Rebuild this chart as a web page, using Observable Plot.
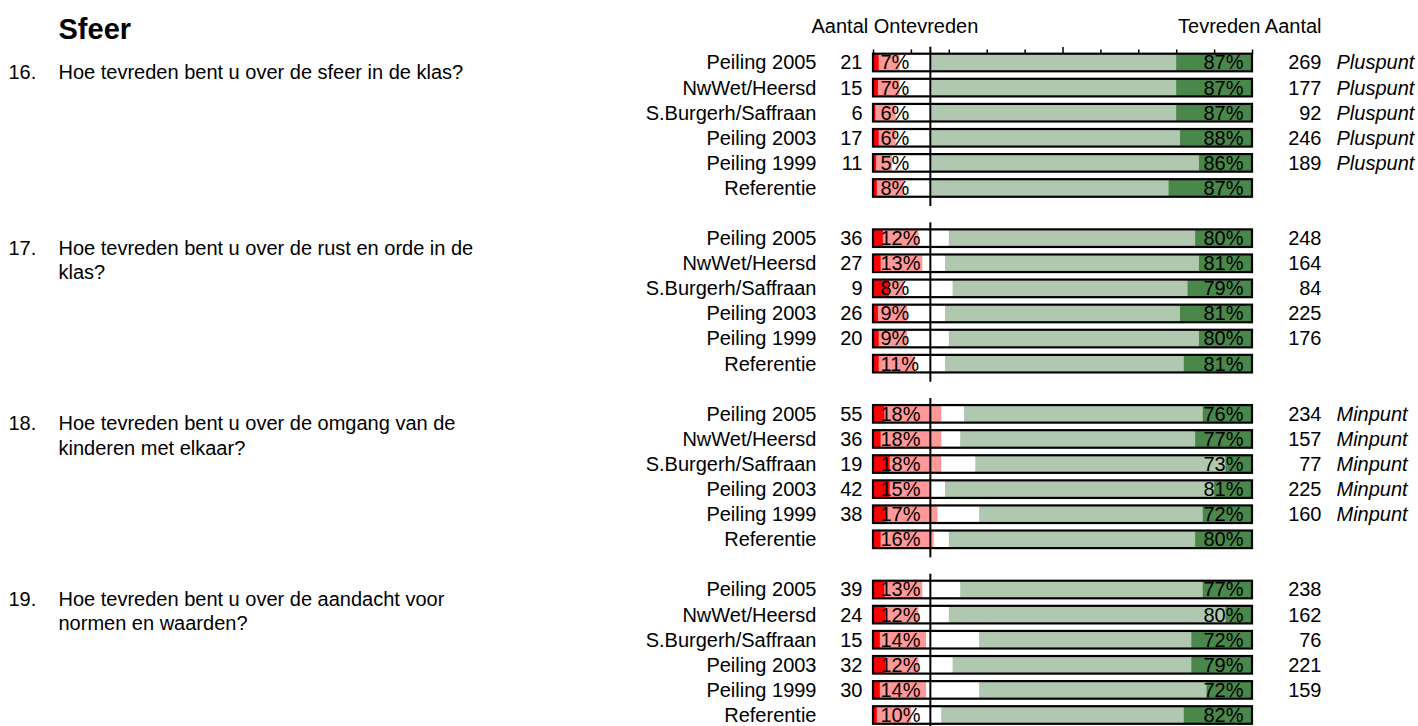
<!DOCTYPE html>
<html><head><meta charset="utf-8">
<script src="https://cdn.jsdelivr.net/npm/d3@7"></script>
<script src="https://cdn.jsdelivr.net/npm/@observablehq/plot@0.6"></script>
<style>body{margin:0;background:#fff;}</style>
</head><body><div id="chart"></div>
<script>
// ---- data ----
const title = "Sfeer";
const headerLeft = "Aantal Ontevreden";
const headerRight = "Tevreden Aantal";
const questionNumbers = ["16.", "17.", "18.", "19."];
const questionLines = [
  ["Hoe tevreden bent u over de sfeer in de klas?"],
  ["Hoe tevreden bent u over de rust en orde in de", "klas?"],
  ["Hoe tevreden bent u over de omgang van de", "kinderen met elkaar?"],
  ["Hoe tevreden bent u over de aandacht voor", "normen en waarden?"]
];
const rowLabels = ["Peiling 2005", "NwWet/Heersd", "S.Burgerh/Saffraan", "Peiling 2003", "Peiling 1999", "Referentie"];
// % ontevreden (pink) and part of it zeer ontevreden (red)
const ontevreden = [[7, 7, 6, 6, 5, 8], [12, 13, 8, 9, 9, 11], [18, 18, 18, 15, 17, 16], [13, 12, 14, 12, 14, 10]];
const zeerOntevreden = [[1.5, 1.3, 0.6, 1.5, 0.8, 1.0], [2.6, 2.0, 4.2, 1.3, 1.5, 1.5], [3.0, 2.0, 4.4, 4.4, 3.5, 2.0], [3.0, 3.3, 1.8, 3.3, 1.8, 1.0]];
// % tevreden (light green) and part of it zeer tevreden (dark green)
const tevreden = [[87, 87, 87, 88, 86, 87], [80, 81, 79, 81, 80, 81], [76, 77, 73, 81, 72, 80], [77, 80, 72, 79, 72, 82]];
const zeerTevreden = [[20, 20, 20, 19, 14, 22], [15, 14, 17, 19, 14, 18], [13, 15, 7, 10, 13, 15], [13, 7, 16, 16, 12, 18]];
const aantalOntevreden = [[21, 15, 6, 17, 11, null], [36, 27, 9, 26, 20, null], [55, 36, 19, 42, 38, null], [39, 24, 15, 32, 30, null]];
const aantalTevreden = [[269, 177, 92, 246, 189, null], [248, 164, 84, 225, 176, null], [234, 157, 77, 225, 160, null], [238, 162, 76, 221, 159, null]];
const opmerking = [
  ["Pluspunt", "Pluspunt", "Pluspunt", "Pluspunt", "Pluspunt", ""],
  ["", "", "", "", "", ""],
  ["Minpunt", "Minpunt", "Minpunt", "Minpunt", "Minpunt", ""],
  ["", "", "", "", "", ""]
];
const scaleTicks = [0, 10, 20, 30, 40, 50, 60, 70, 80, 90, 100];
const normLine = 15;

// ---- build tables ----
const slotsPerGroup = 7;
const rows = [];
questionNumbers.forEach((q, g) => rowLabels.forEach((label, i) => rows.push({
  g, i, slot: g * slotsPerGroup + i, label,
  ont: ontevreden[g][i], zont: zeerOntevreden[g][i],
  tev: tevreden[g][i], ztev: zeerTevreden[g][i],
  nOnt: aantalOntevreden[g][i], nTev: aantalTevreden[g][i], opm: opmerking[g][i]
})));
const groups = questionNumbers.map((q, g) => ({g, q, first: g * slotsPerGroup, last: g * slotsPerGroup + rowLabels.length - 1}));
const qLines = [];
questionLines.forEach((lines, g) => lines.forEach((t, k) => qLines.push({t, y: g * slotsPerGroup + 0.38 + k * 0.97})));
const ticks = scaleTicks.map(v => ({v, len: v === 50 ? 0.27 : 0.17}));

const FONT = "'Liberation Sans', Arial, sans-serif";
const PINK = "#FF9999", RED = "#FF0000", LGREEN = "#AFC8AF", DGREEN = "#4A874A";
const h = 0.32, fh = 0.35;

const chart = Plot.plot({
  width: 1418, height: 726,
  marginTop: 0, marginBottom: 0, marginLeft: 0, marginRight: 0,
  style: {fontFamily: FONT, background: "#fff", color: "#000"},
  x: {domain: [0, 100], range: [873, 1252], axis: null},
  y: {domain: [0, 26], range: [62.5, 715], axis: null},
  marks: [
    Plot.rect(rows, {x1: d => 0, x2: d => d.ont, y1: d => d.slot - h, y2: d => d.slot + h, fill: PINK, insetLeft: 1}),
    Plot.rect(rows, {x1: d => 0, x2: d => d.zont, y1: d => d.slot - h, y2: d => d.slot + h, fill: RED, insetLeft: 1}),
    Plot.rect(rows, {x1: d => Math.max(100 - d.tev, normLine + 0.4), x2: d => 100, y1: d => d.slot - h, y2: d => d.slot + h, fill: LGREEN, insetRight: 1}),
    Plot.rect(rows, {x1: d => 100 - d.ztev, x2: d => 100, y1: d => d.slot - h, y2: d => d.slot + h, fill: DGREEN, insetRight: 1}),
    Plot.rect(rows, {x1: d => 0, x2: d => 100, y1: d => d.slot - fh, y2: d => d.slot + fh, fill: "none", stroke: "#000", strokeWidth: 2.2}),
    Plot.ruleX(groups, {x: d => normLine, y1: d => d.first - 0.63, y2: d => d.last + 0.72, stroke: "#000", strokeWidth: 2}),
    Plot.ruleX(ticks, {x: "v", y1: d => -fh, y2: d => -fh - d.len, stroke: "#000", strokeWidth: 1.5}),
    // percentages inside bars
    Plot.text(rows, {x: d => 0, y: "slot", text: d => `${d.ont}%`, textAnchor: "start", dx: 7, fontSize: 20, fill: "#000"}),
    Plot.text(rows, {x: d => 100, y: "slot", text: d => `${d.tev}%`, textAnchor: "end", dx: -9, fontSize: 20, fill: "#000"}),
    // row labels and counts
    Plot.text(rows, {x: d => 0, y: "slot", text: "label", textAnchor: "end", dx: -57, fontSize: 20, fill: "#000"}),
    Plot.text(rows.filter(d => d.nOnt != null), {x: d => 0, y: "slot", text: d => String(d.nOnt), textAnchor: "end", dx: -11, fontSize: 20, fill: "#000"}),
    Plot.text(rows.filter(d => d.nTev != null), {x: d => 100, y: "slot", text: d => String(d.nTev), textAnchor: "end", dx: 69, fontSize: 20, fill: "#000"}),
    Plot.text(rows.filter(d => d.opm), {x: d => 100, y: "slot", text: "opm", textAnchor: "start", dx: 84, fontSize: 20, fontStyle: "italic", fill: "#000"}),
    // questions
    Plot.text(groups, {y: d => d.first + 0.38, text: "q", frameAnchor: "left", textAnchor: "start", dx: 8, fontSize: 20, fill: "#000"}),
    Plot.text(qLines, {y: "y", text: "t", frameAnchor: "left", textAnchor: "start", dx: 58, fontSize: 20, fill: "#000"}),
    // headers
    Plot.text([headerLeft], {x: d => 0, frameAnchor: "top", dy: 18, dx: -62, text: d => d, textAnchor: "start", fontSize: 20, fill: "#000"}),
    Plot.text([headerRight], {x: d => 100, frameAnchor: "top", dy: 18, dx: 69, text: d => d, textAnchor: "end", fontSize: 20, fill: "#000"}),
    Plot.text([title], {frameAnchor: "top-left", dx: 58, dy: 18, text: d => d, textAnchor: "start", fontSize: 29, fontWeight: "bold", fill: "#000"})
  ]
});
document.getElementById("chart").appendChild(chart);
</script>
</body></html>
